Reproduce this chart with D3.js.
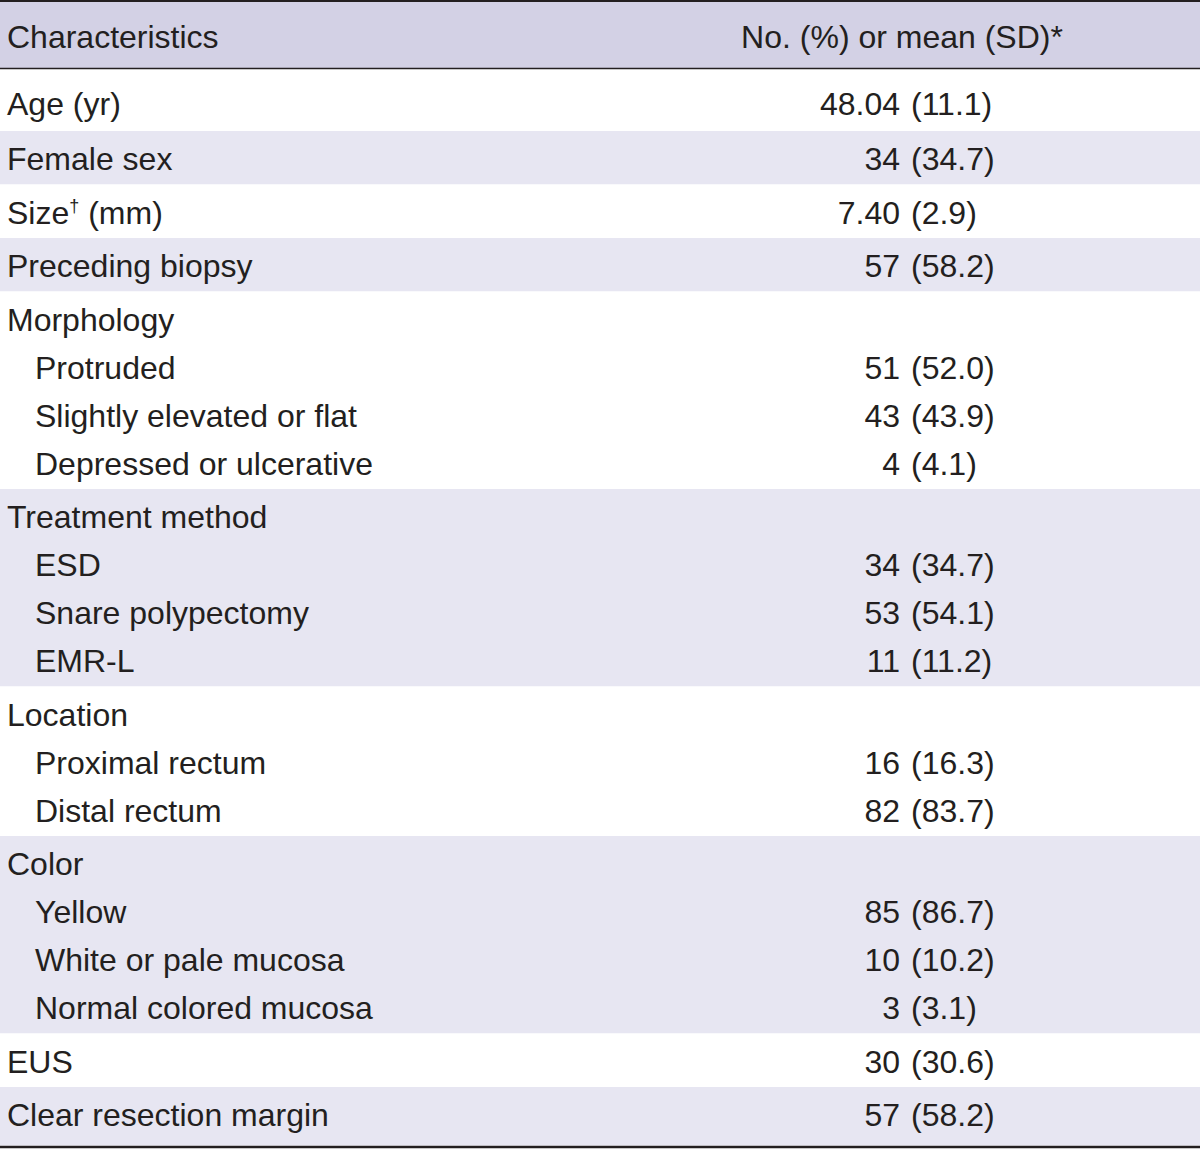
<!DOCTYPE html>
<html>
<head>
<meta charset="utf-8">
<script src="https://cdn.jsdelivr.net/npm/d3@7"></script>
<style>
  html, body { margin: 0; padding: 0; background: #fff; }
  svg { display: block; font-family: "Liberation Sans", Arial, sans-serif; }
</style>
</head>
<body>
<svg width="1200" height="1150"></svg>
<script>
var headers = ['Characteristics', 'No. (%) or mean (SD)*'];

var labels = [
  'Age (yr)', 'Female sex', 'Size\u2020 (mm)', 'Preceding biopsy',
  'Morphology', 'Protruded', 'Slightly elevated or flat', 'Depressed or ulcerative',
  'Treatment method', 'ESD', 'Snare polypectomy', 'EMR-L',
  'Location', 'Proximal rectum', 'Distal rectum',
  'Color', 'Yellow', 'White or pale mucosa', 'Normal colored mucosa',
  'EUS', 'Clear resection margin'
];
var levels = [0, 0, 0, 0, 0, 1, 1, 1, 0, 1, 1, 1, 0, 1, 1, 0, 1, 1, 1, 0, 0];
var counts = ['48.04', '34', '7.40', '57', '', '51', '43', '4', '', '34', '53', '11', '', '16', '82', '', '85', '10', '3', '30', '57'];
var pcts = ['(11.1)', '(34.7)', '(2.9)', '(58.2)', '', '(52.0)', '(43.9)', '(4.1)', '', '(34.7)', '(54.1)', '(11.2)', '', '(16.3)', '(83.7)', '', '(86.7)', '(10.2)', '(3.1)', '(30.6)', '(58.2)'];

var svg = d3.select('svg');
var width = +svg.attr('width');
var ink = '#231f20';
var fontSize = 32;

// columns: label starts at the left, values are lined up on the open paren
var x = d3.scaleOrdinal()
  .domain(['label', 'indent', 'count', 'paren', 'header'])
  .range([7, 35, 900, 911, 902]);

// group rows into bands: a top level row plus the indented rows after it
var bands = [];
labels.forEach(function(l, i) {
  if (levels[i] === 0) bands.push([]);
  bands[bands.length - 1].push(i);
});

var headTop = 2, headBottom = 68.5;
var padTop = 39, padBottom = 14.5, step = 48;
var baseline = [];
var y = headBottom;
bands = bands.map(function(rows, b) {
  var top = y;
  var extraTop = b === 0 ? 7 : 0;
  var extraBottom = b === 0 ? 2 : (b === bands.length - 1 ? 5 : 0);
  rows.forEach(function(r, k) {
    baseline[r] = top + padTop + extraTop + k * step;
  });
  y = top + padTop + extraTop + (rows.length - 1) * step + padBottom + extraBottom;
  return {rows: rows, top: top, bottom: y, shade: b % 2 === 1};
});
var tableBottom = y;

// header band
svg.append('rect')
  .attr('x', 0).attr('y', headTop)
  .attr('width', width).attr('height', headBottom - headTop)
  .attr('fill', '#d3d1e5');

// body bands
svg.append('g')
  .selectAll('rect')
  .data(bands)
  .enter()
  .append('rect')
  .attr('x', 0)
  .attr('y', function(d) { return d.top; })
  .attr('width', width)
  .attr('height', function(d) { return d.bottom - d.top; })
  .attr('fill', function(d) { return d.shade ? '#e7e6f2' : '#ffffff'; });

// rules
svg.append('line').attr('x1', 0).attr('x2', width).attr('y1', 1).attr('y2', 1)
  .attr('stroke', ink).attr('stroke-width', 2);
svg.append('line').attr('x1', 0).attr('x2', width).attr('y1', headBottom).attr('y2', headBottom)
  .attr('stroke', ink).attr('stroke-width', 1.6);
svg.append('line').attr('x1', 0).attr('x2', width).attr('y1', tableBottom + 1.5).attr('y2', tableBottom + 1.5)
  .attr('stroke', ink).attr('stroke-width', 2.5);

// header text
svg.append('text')
  .attr('x', x('label')).attr('y', 48)
  .attr('font-size', fontSize).attr('fill', ink)
  .text(headers[0]);
svg.append('text')
  .attr('x', x('header')).attr('y', 48)
  .attr('text-anchor', 'middle')
  .attr('font-size', fontSize).attr('fill', ink)
  .text(headers[1]);

// labels, with the dagger footnote mark raised
var rowIdx = d3.range(labels.length);
svg.append('g')
  .selectAll('text')
  .data(rowIdx)
  .enter()
  .append('text')
  .attr('x', function(i) { return levels[i] ? x('indent') : x('label'); })
  .attr('y', function(i) { return baseline[i]; })
  .attr('font-size', fontSize)
  .attr('fill', ink)
  .each(function(i) {
    var parts = labels[i].split('\u2020');
    var t = d3.select(this);
    t.append('tspan').text(parts[0]);
    if (parts.length > 1) {
      t.append('tspan').attr('dy', -12).attr('font-size', 18).text('\u2020');
      t.append('tspan').attr('dy', 12).text(parts[1]);
    }
  });

// values: count ends before the gap, percentage starts at the paren
var vals = rowIdx.filter(function(i) { return counts[i] !== ''; });
svg.append('g')
  .selectAll('text')
  .data(vals)
  .enter()
  .append('text')
  .attr('x', x('count'))
  .attr('y', function(i) { return baseline[i]; })
  .attr('text-anchor', 'end')
  .attr('font-size', fontSize)
  .attr('fill', ink)
  .text(function(i) { return counts[i]; });
svg.append('g')
  .selectAll('text')
  .data(vals)
  .enter()
  .append('text')
  .attr('x', x('paren'))
  .attr('y', function(i) { return baseline[i]; })
  .attr('font-size', fontSize)
  .attr('fill', ink)
  .text(function(i) { return pcts[i]; });
</script>
</body>
</html>
